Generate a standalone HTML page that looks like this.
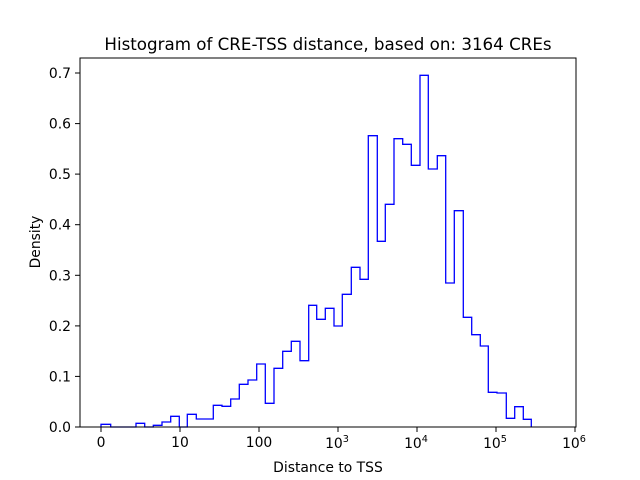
<!DOCTYPE html>
<html><head><style>body{margin:0;background:#fff}svg{display:block}</style></head><body>
<svg width="640" height="480" xmlns="http://www.w3.org/2000/svg" font-family="'DejaVu Sans', 'Liberation Sans', sans-serif">
<rect width="640" height="480" fill="#fff"/>
<path fill="none" stroke="#0000ff" stroke-width="1.3" d="M101,427 V424.3 H110.7 V427 H136 V423.3 H144.7 V427 H153.3 V425.3 H162 V422 H170.7 V416.3 H179.3 V427 H187.3 V414.3 H196.3 V419 H213.3 V405.3 H222 V406.3 H230.7 V399 H239.3 V384.3 H248 V380 H256.7 V364 H265.3 V403.3 H274 V368.3 H282.7 V351.3 H291.3 V341.3 H300 V360.7 H308.7 V305.3 H316.7 V319.3 H325.3 V308.3 H334 V326 H342.3 V294.3 H351.3 V267.3 H360 V279.3 H368.3 V135.7 H377.3 V241.3 H385.3 V204.3 H394 V138.7 H402.7 V144.3 H411.3 V165.3 H420 V75.3 H428.3 V169 H437.3 V155.7 H445.7 V283 H454.3 V210.7 H463.3 V317.3 H471.7 V334.7 H480.3 V346 H488.3 V392.3 H497 V393 H506.3 V418.3 H514.7 V406.7 H523.3 V419.3 H531.3 V427"/>
<rect x="80" y="58" width="496" height="369" fill="none" stroke="#000" stroke-width="1"/>
<g stroke="#000" stroke-width="1">
<line x1="101" y1="427" x2="101" y2="432"/><line x1="180" y1="427" x2="180" y2="432"/><line x1="259" y1="427" x2="259" y2="432"/><line x1="338" y1="427" x2="338" y2="432"/><line x1="417" y1="427" x2="417" y2="432"/><line x1="496" y1="427" x2="496" y2="432"/><line x1="575" y1="427" x2="575" y2="432"/>
<line x1="75" y1="427" x2="80" y2="427"/><line x1="75" y1="376.4" x2="80" y2="376.4"/><line x1="75" y1="325.9" x2="80" y2="325.9"/><line x1="75" y1="275.3" x2="80" y2="275.3"/><line x1="75" y1="224.7" x2="80" y2="224.7"/><line x1="75" y1="174.1" x2="80" y2="174.1"/><line x1="75" y1="123.6" x2="80" y2="123.6"/><line x1="75" y1="73" x2="80" y2="73"/>
</g>
<g font-size="13.9" text-anchor="end" fill="#000">
<text x="71" y="432">0.0</text><text x="71" y="381.4">0.1</text><text x="71" y="330.9">0.2</text><text x="71" y="280.3">0.3</text><text x="71" y="229.7">0.4</text><text x="71" y="179.1">0.5</text><text x="71" y="128.6">0.6</text><text x="71" y="78">0.7</text>
</g>
<g font-size="13.9" text-anchor="middle" fill="#000">
<text x="101" y="447">0</text><text x="180" y="447">10</text><text x="259" y="447">100</text>
<text x="337" y="448">10<tspan font-size="9.7" dy="-6">3</tspan></text>
<text x="416" y="448">10<tspan font-size="9.7" dy="-6">4</tspan></text>
<text x="495" y="448">10<tspan font-size="9.7" dy="-6">5</tspan></text>
<text x="574" y="448">10<tspan font-size="9.7" dy="-6">6</tspan></text>
<text x="328" y="472">Distance to TSS</text>
<text x="328" y="50" font-size="16.7">Histogram of CRE-TSS distance, based on: 3164 CREs</text>
<text transform="translate(40,242) rotate(-90)">Density</text>
</g>
</svg>
</body></html>
